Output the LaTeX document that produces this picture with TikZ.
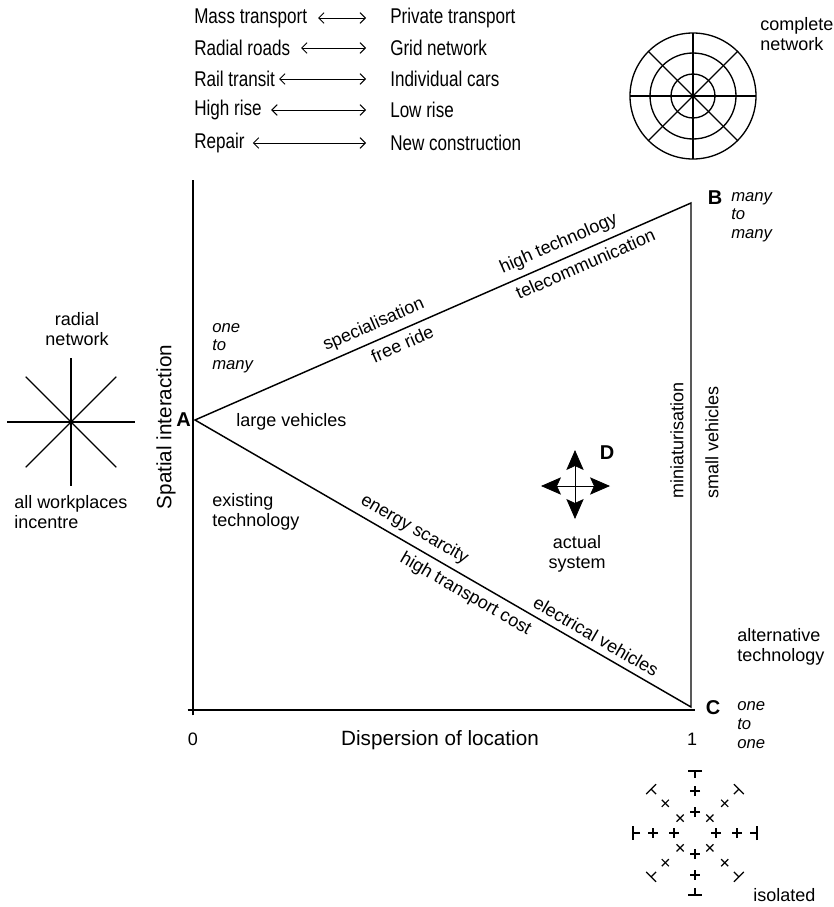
\documentclass[tikz,border=0pt]{standalone}
\usepackage{fontspec}
\setmainfont{Liberation Sans}
\newfontfamily\narrowsans[FakeStretch=0.8]{Liberation Sans}
\usetikzlibrary{arrows.meta, positioning, calc}

\begin{document}
\begin{tikzpicture}[
  x=0.75pt, y=-0.75pt,
  every node/.style={font=\fontsize{13.5}{14.5}\selectfont, inner sep=0pt},
  axis/.style={line width=1.1pt},
  side/.style={line width=1.1pt},
  net/.style={line width=1pt},
  bit/.style={line width=0.9pt},
  pair/.style={{Straight Barb[length=4pt,width=8pt]}-{Straight Barb[length=4pt,width=8pt]}, line width=0.7pt},
  move/.style={-{Stealth[length=15pt, width=13pt, inset=3pt]}, line width=0.6pt},
  listitem/.style={anchor=west, font=\narrowsans\fontsize{16}{17}\selectfont},
  axislabel/.style={font=\fontsize{15.5}{16}\selectfont},
  corner/.style={font=\fontsize{15}{16}\selectfont\bfseries},
  kind/.style={align=left, anchor=west, font=\fontsize{12.5}{14}\selectfont\itshape},
  remark/.style={align=left, anchor=west},
  onedge/.style={sloped}
]
\useasboundingbox (0,0) rectangle (834,907);

% list of opposites
\node[listitem] (mass) at (194,18) {Mass transport};
\node[listitem] (priv) at (390,18) {Private transport};
\node[listitem] (radial) at (194,48) {Radial roads};
\node[listitem] (grid) at (390,48) {Grid network};
\node[listitem] (rail) at (194,79) {Rail transit};
\node[listitem] (cars) at (390,79) {Individual cars};
\node[listitem] (high) at (194,110) {High rise};
\node[listitem] (low) at (390,110) {Low rise};
\node[listitem] (repair) at (194,143) {Repair};
\node[listitem] (new) at (390,143) {New construction};
\draw[pair] ([xshift=8pt]mass.east) -- ([xshift=-18pt]priv.west);
\draw[pair] ([xshift=8pt]radial.east) -- ([xshift=-18pt]grid.west);
\draw[pair] ([xshift=3pt]rail.east) -- ([xshift=-18pt]cars.west);
\draw[pair] ([xshift=7pt]high.east) -- ([xshift=-18pt]low.west);
\draw[pair] ([xshift=6pt]repair.east) -- ([xshift=-18pt]new.west);

% complete network
\coordinate (cn) at (693,96);
\foreach \r in {22,43,63} \draw[net] (cn) circle[radius=\r];
\foreach \a in {0,45,...,315} \draw[net] (cn) -- ++(\a:63);
\node[remark] (complete) at (760,34) {complete\\network};

% axes
\coordinate (o) at (193,710);
\coordinate (ytop) at (193,180);
\coordinate (xend) at (695,710);
\draw[axis] ([yshift=-4pt]o) -- (ytop);
\draw[axis] ([xshift=-4pt]o) -- (xend);
\node (zero) at (193,739) {0};
\node (one) at (692,739) {1};
\node[axislabel] (xlabel) at (440,740) {Dispersion of location};
\node[axislabel, rotate=90] (ylabel) at (166,427) {Spatial interaction};

% triangle
\coordinate (A) at (195,420);
\coordinate (B) at (691,203);
\coordinate (C) at (691,707);
\draw[side] (A) -- (B) -- (C) -- cycle;
\node[corner, anchor=east] (la) at ([xshift=-3pt]A) {A};
\node[corner] (lb) at (715,198) {B};
\node[corner] (lc) at (713,708) {C};
\node[kind] (btype) at (731,217) {many\\to\\many};
\node[kind] (ctype) at (737,725) {one\\to\\one};
\node[kind] (atype) at (212,348) {one\\to\\many};

% labels along the sides
\path (A) -- (B)
  node[onedge, pos=0.373, above=5pt] (spec) {specialisation}
  node[onedge, pos=0.407, below=5pt] (free) {free ride}
  node[onedge, pos=0.746, above=5pt] (hitech) {high technology}
  node[onedge, pos=0.776, below=5pt] (tele) {telecommunication};
\path (A) -- (C)
  node[onedge, pos=0.427, above=5pt] (energy) {energy scarcity}
  node[onedge, pos=0.561, below=5pt] (cost) {high transport cost}
  node[onedge, pos=0.795, above=5pt] (elec) {electrical vehicles};
\node[rotate=90] (mini) at (677,440) {miniaturisation};
\node[rotate=90] (small) at (712,442) {small vehicles};
\node[remark] (large) at (236,422) {large vehicles};
\node[remark] (exist) at (212,512) {existing\\technology};
\node[remark] (alt) at (737,647) {alternative\\technology};

% actual system
\coordinate (dc) at (575,486);
\coordinate (du) at (575,450);
\coordinate (dd) at (575,519);
\coordinate (dl) at (541,486);
\coordinate (dr) at (610,486);
\draw[move] (dc) -- (du);
\draw[move] (dc) -- (dd);
\draw[move] (dc) -- (dl);
\draw[move] (dc) -- (dr);
\node[corner] (ld) at (607,453) {D};
\node[align=center] (actual) at (577,554) {actual\\system};

% radial network
\coordinate (rc) at (71,422);
\foreach \a in {0,45,...,315} \draw[net] (rc) -- ++(\a:64);
\node[align=center] (radialnet) at (77,329) {radial\\network};
\node[remark] (work) at (14,512) {all workplaces\\incentre};

% isolated
\coordinate (ic) at (695,833);
\foreach \a in {0,45,...,315} {
  \foreach \r in {21,42} {
    \draw[bit] ($(ic)+({\a}:{\r-5})$) -- ($(ic)+({\a}:{\r+5})$);
    \draw[bit] ($(ic)+({\a}:\r)+({\a+90}:5)$) -- ($(ic)+({\a}:\r)+({\a-90}:5)$);
  }
  \draw[bit] ($(ic)+({\a}:55)$) -- ($(ic)+({\a}:62)$);
  \draw[bit] ($(ic)+({\a}:62)+({\a+90}:7)$) -- ($(ic)+({\a}:62)+({\a-90}:7)$);
}
\node[remark] (iso) at (753,895) {isolated};

\end{tikzpicture}
\end{document}
